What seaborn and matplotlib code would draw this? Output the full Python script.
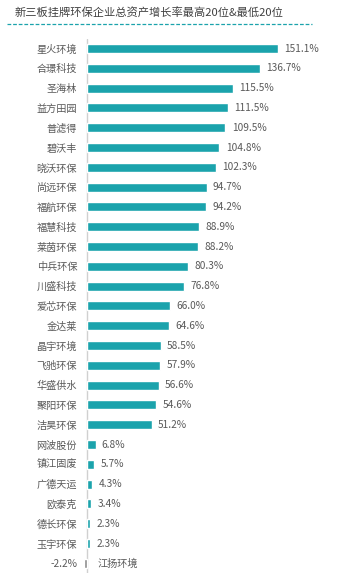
import matplotlib
matplotlib.use("Agg")
import matplotlib.pyplot as plt
import seaborn as sns
import pandas as pd

categories = ["星火环境", "合璟科技", "圣海林", "益方田园", "普滤得", "碧沃丰", "晓沃环保",
              "尚远环保", "福航环保", "福慧科技", "莱茵环保", "中兵环保", "川盛科技", "爱芯环保",
              "金达莱", "晶宇环境", "飞驰环保", "华盛供水", "聚阳环保", "洁昊环保",
              "网波股份", "镇江固废", "广德天运", "欧泰克", "德长环保", "玉宇环保", "江扬环境"]
values = [151.1, 136.7, 115.5, 111.5, 109.5, 104.8, 102.3, 94.7, 94.2, 88.9, 88.2, 80.3,
          76.8, 66.0, 64.6, 58.5, 57.9, 56.6, 54.6, 51.2, 6.8, 5.7, 4.3, 3.4, 2.3, 2.3, -2.2]
title = "新三板挂牌环保企业总资产增长率最高20位&最低20位"

sns.set_theme(style="white")
plt.rcParams['font.family'] = ['Noto Sans CJK SC', 'DejaVu Sans']

W, H = 342, 575
fig = plt.figure(figsize=(W / 100, H / 100), dpi=100)
fig.patch.set_facecolor("white")

teal = "#1BA3AC"
gray = "#8C8C8C"
txt = "#595959"

df = pd.DataFrame({"cat": categories, "val": values})
palette = {c: (teal if v >= 0 else gray) for c, v in zip(categories, values)}

scale = 1.264  # px per percent
zero_px = 87
xmin = -6
left = zero_px + xmin * scale
right = 330
step = 19.8
top = 48.5 - step / 2
bottom = top + step * len(categories)
ax = fig.add_axes([left / W, 1 - bottom / H, (right - left) / W, (bottom - top) / H])
sns.barplot(data=df, x="val", y="cat", hue="cat", palette=palette, legend=False,
            orient="h", width=0.46, ax=ax, saturation=1)
ax.set_xlim(xmin, xmin + (right - left) / scale)
ax.set_ylim(len(categories) - 0.5, -0.5)
ax.set_xlabel("")
ax.set_ylabel("")
ax.set_xticks([])
for s in ["top", "right", "bottom", "left"]:
    ax.spines[s].set_visible(False)
ax.axvline(0, color="#D0D0D0", linewidth=1.0, zorder=0)

ticklabels = [c if v >= 0 else f"{v:.1f}%" for c, v in zip(categories, values)]
ax.set_yticks(range(len(categories)))
ax.set_yticklabels(ticklabels, fontsize=7.3, color=txt)
ax.tick_params(axis="y", length=0, pad=1.7)

for i, (c, v) in enumerate(zip(categories, values)):
    if v >= 0:
        ax.annotate(f"{v:.1f}%", (v, i), xytext=(4.5, 0), textcoords="offset points",
                    va="center", ha="left", fontsize=7.3, color=txt)
    else:
        ax.annotate(c, (0, i), xytext=(7.5, 0), textcoords="offset points",
                    va="center", ha="left", fontsize=7.3, color=txt)

fig.text(15 / W, 1 - 13 / H, title, fontsize=8.1, color="#404040", va="center", ha="left")
fig.add_artist(plt.Line2D([7 / W, 312 / W], [1 - 23.5 / H, 1 - 23.5 / H], color=teal,
                          linewidth=0.9, linestyle=(0, (3, 1.5))))

fig.savefig("out.png", dpi=100, facecolor="white")
